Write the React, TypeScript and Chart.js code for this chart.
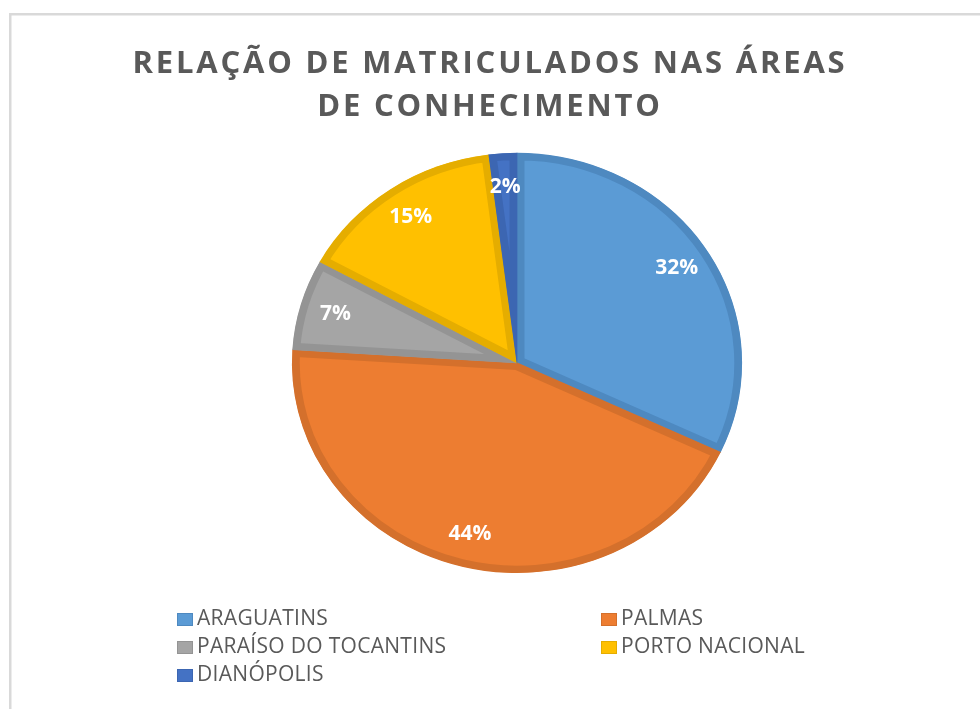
import React, { useEffect, useRef } from "react";
import { Chart, registerables } from "chart.js";

Chart.register(...registerables);

// ---- data ----
const categories = ["ARAGUATINS", "PALMAS", "PARAÍSO DO TOCANTINS", "PORTO NACIONAL", "DIANÓPOLIS"];
const shares = [32, 44, 7, 15, 2];
const fillColors = ["#5B9BD5", "#ED7D31", "#A5A5A5", "#FFC000", "#4472C4"];
const edgeColors = ["#4E89C0", "#D4702C", "#949494", "#E5AD00", "#3C66B2"];
const titleLines = ["RELAÇÃO DE MATRICULADOS NAS ÁREAS", "DE CONHECIMENTO"];

// ---- layout / style constants ----
const STRETCH_X = 225 / 210;
const SHIFT_X = 27;
const LABEL_RADIUS = 0.84;
const TEXT_GRAY = "#595959";
const FONT = '"Open Sans", "DejaVu Sans", sans-serif';
const TITLE_SPACING = "2.8px";

const framePlugin = {
  id: "frame",
  beforeDraw(chart: any) {
    const ctx = chart.ctx;
    ctx.save();
    ctx.fillStyle = "#ffffff";
    ctx.fillRect(0, 0, chart.width, chart.height);
    ctx.strokeStyle = "#D9D9D9";
    ctx.lineWidth = 2.5;
    ctx.strokeRect(10.25, 14.25, chart.width + 40, chart.height + 40);
    ctx.restore();
    // letter spacing used by the title (drawn before the datasets)
    ctx.letterSpacing = TITLE_SPACING;
  },
};

function pieCenter(chart: any) {
  const a = chart.chartArea;
  return { cx: (a.left + a.right) / 2, cy: (a.top + a.bottom) / 2 };
}

const stretchPlugin = {
  id: "stretch",
  beforeDatasetsDraw(chart: any) {
    const ctx = chart.ctx;
    ctx.letterSpacing = "0px";
    const { cx, cy } = pieCenter(chart);
    ctx.save();
    ctx.translate(cx + SHIFT_X, cy);
    ctx.scale(STRETCH_X, 1);
    ctx.translate(-cx, -cy);
  },
  afterDatasetsDraw(chart: any) {
    const ctx = chart.ctx;
    ctx.restore();
    const { cx } = pieCenter(chart);
    const meta = chart.getDatasetMeta(0);
    const values = chart.data.datasets[0].data as number[];
    const total = values.reduce((s, v) => s + v, 0);
    ctx.save();
    ctx.fillStyle = "#ffffff";
    ctx.font = `bold 21px ${FONT}`;
    ctx.textAlign = "center";
    ctx.textBaseline = "middle";
    meta.data.forEach((arc: any, i: number) => {
      const p = arc.getProps(["x", "y", "startAngle", "endAngle", "outerRadius"], true);
      const mid = (p.startAngle + p.endAngle) / 2;
      const px = p.x + Math.cos(mid) * p.outerRadius * LABEL_RADIUS;
      const py = p.y + Math.sin(mid) * p.outerRadius * LABEL_RADIUS;
      const X = cx + SHIFT_X + (px - cx) * STRETCH_X;
      const pct = Math.round((values[i] / total) * 100) + "%";
      ctx.fillText(pct, X, py);
    });
    ctx.restore();
  },
};

const legendPlugin = {
  id: "customLegend",
  afterDraw(chart: any) {
    const ctx = chart.ctx;
    const colX = [177, 601];
    const rowY0 = 619.5;
    const rowStep = 28;
    const boxW = 16;
    const boxH = 13;
    const labels = chart.data.labels as string[];
    const ds = chart.data.datasets[0];
    ctx.save();
    ctx.letterSpacing = "0.3px";
    ctx.font = `21px ${FONT}`;
    ctx.textBaseline = "middle";
    ctx.textAlign = "left";
    labels.forEach((lab, i) => {
      const x = colX[i % 2];
      const y = rowY0 + Math.floor(i / 2) * rowStep;
      ctx.fillStyle = ds.backgroundColor[i];
      ctx.fillRect(x, y - boxH / 2, boxW, boxH);
      ctx.strokeStyle = ds.borderColor[i];
      ctx.lineWidth = 1;
      ctx.strokeRect(x + 0.5, y - boxH / 2 + 0.5, boxW - 1, boxH - 1);
      ctx.fillStyle = TEXT_GRAY;
      ctx.fillText(lab, x + boxW + 4, y - 0.5);
    });
    ctx.restore();
  },
};

export default function App() {
  const ref = useRef<HTMLCanvasElement | null>(null);
  useEffect(() => {
    if (!ref.current) return;
    const chart = new Chart(ref.current, {
      type: "pie",
      data: {
        labels: categories,
        datasets: [
          {
            data: shares,
            backgroundColor: fillColors,
            borderColor: edgeColors,
            borderWidth: 7,
            borderAlign: "inner",
            hoverOffset: 0,
            offset: 0,
          } as any,
        ],
      },
      options: {
        responsive: false,
        animation: false,
        events: [],
        layout: { padding: { top: 0, left: 0, right: 0, bottom: 136 } },
        plugins: {
          legend: { display: false },
          tooltip: { enabled: false },
          title: {
            display: true,
            text: titleLines,
            color: TEXT_GRAY,
            font: { family: FONT, size: 31, weight: "bold", lineHeight: 1.4 },
            padding: { top: 42, bottom: 24 },
          },
        },
      } as any,
      plugins: [framePlugin, stretchPlugin, legendPlugin],
    });
    return () => chart.destroy();
  }, []);
  return (
    <div style={{ position: "fixed", left: 0, top: 0, width: 980, height: 709, background: "#fff" }}>
      <canvas ref={ref} width={980} height={709} style={{ display: "block" }} />
    </div>
  );
}
